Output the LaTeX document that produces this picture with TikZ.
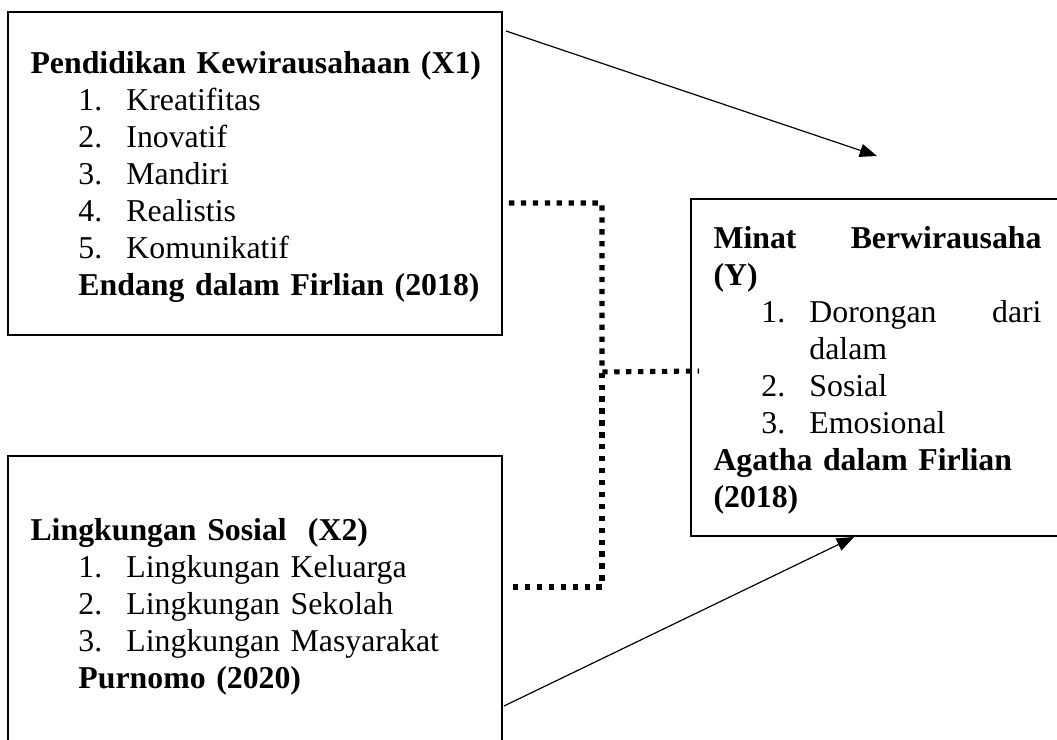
\documentclass[tikz,border=0pt]{standalone}
\usepackage{fontspec}
\setmainfont{Liberation Serif}
\usetikzlibrary{arrows.meta, positioning, calc, fit}

\newcommand{\indik}[2]{\hspace*{18.1pt}\makebox[18.1pt][l]{#1}#2}

\begin{document}
\begin{tikzpicture}[x=0.3774pt, y=-0.3774pt,
    box/.style={draw, line width=0.75pt, inner sep=0pt},
    txt/.style={anchor=base west, inner sep=0pt, align=left, font=\fontsize{12}{14}\selectfont},
    dots/.style={line width=1.9pt, dash pattern=on 2pt off 2.5pt},
    arr/.style={line width=0.45pt, -{Triangle[length=6.5pt, width=5pt]}}]
    \useasboundingbox (0,0) rectangle (1057,740);
    \clip (0,0) rectangle (1057,740);

    % Variable boxes
    \node[box, fit={(8,12) (502,335)}] (x1) {};
    \node[box, fit={(8,456) (502,760)}] (x2) {};
    \node[box, fit={(691,199) (1080,536)}] (y) {};

    % Texts
    \node[txt, text width=175pt] (x1txt) at (30,73) {
        \textbf{Pendidikan Kewirausahaan (X1)}\\
        \indik{1.}{Kreatifitas}\\
        \indik{2.}{Inovatif}\\
        \indik{3.}{Mandiri}\\
        \indik{4.}{Realistis}\\
        \indik{5.}{Komunikatif}\\
        \hspace*{18.1pt}\textbf{Endang dalam Firlian (2018)}};
    \node[txt, text width=175pt] (x2txt) at (30,540) {
        \textbf{Lingkungan Sosial~~(X2)}\\
        \indik{1.}{Lingkungan Keluarga}\\
        \indik{2.}{Lingkungan Sekolah}\\
        \indik{3.}{Lingkungan Masyarakat}\\
        \hspace*{18.1pt}\textbf{Purnomo (2020)}};
    \node[txt, text width=123.8pt] (ytxt) at (713,248) {
        \textbf{Minat\hfill Berwirausaha}\\
        \textbf{(Y)}\\
        \indik{1.}{Dorongan\hfill dari}\\
        \hspace*{36.2pt}dalam\\
        \indik{2.}{Sosial}\\
        \indik{3.}{Emosional}\\
        \textbf{Agatha dalam Firlian}\\
        \textbf{(2018)}};

    % Direct arrows
    \coordinate (yin) at (877,156);
    \draw[arr] ([shift={(3,20)}]x1.north east) -- (yin);
    \draw[arr] ([shift={(1,251)}]x2.north east) -- ([shift={(164,0)}]y.south west);

    % Dotted joint path
    \coordinate (jn) at (602,372);
    \draw[dots] ([shift={(6,192)}]x1.north east) -| (jn) -- ([shift={(9,173)}]y.north west);
    \draw[dots] ([shift={(10,132)}]x2.north east) -| (jn);
\end{tikzpicture}
\end{document}
